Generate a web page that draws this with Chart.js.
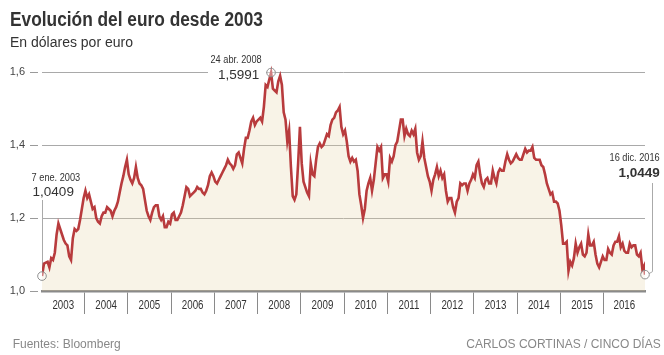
<!DOCTYPE html>
<html><head><meta charset="utf-8">
<script src="https://cdn.jsdelivr.net/npm/chart.js@4.4.1/dist/chart.umd.min.js"></script>
<style>
html,body{margin:0;padding:0;background:#fff;}
#wrap{position:relative;width:664px;height:355px;overflow:hidden;background:#fff;}
canvas{position:absolute;left:0;top:0;}
.t{position:absolute;white-space:nowrap;line-height:1;}
#title{left:10px;top:9px;font-weight:bold;font-size:20px;font-family:"Liberation Sans",Arial,sans-serif;color:#333;transform-origin:0 0;}
#sub{left:10px;top:35px;font-size:14px;font-family:"Liberation Sans",Arial,sans-serif;color:#333;}
#src{left:12.7px;top:338px;font-size:12px;font-family:"Liberation Sans",Arial,sans-serif;color:#888;}
#cred{right:3.3px;top:338px;font-size:12px;font-family:"Liberation Sans",Arial,sans-serif;color:#888;}
</style></head>
<body>
<div id="wrap">
<canvas id="c" width="664" height="355"></canvas>
<div class="t" id="title">Evolución del euro desde 2003</div>
<div class="t" id="sub">En dólares por euro</div>
<div class="t" id="src">Fuentes: Bloomberg</div>
<div class="t" id="cred">CARLOS CORTINAS / CINCO DÍAS</div>
</div>
<script>
// Year labels on the x axis
const years = ['2003','2004','2005','2006','2007','2008','2009','2010','2011','2012','2013','2014','2015','2016'];
// y-axis ticks
const yTicks = [1.0, 1.2, 1.4, 1.6];
// EUR/USD, two readings per month (first half, second half)
const y2003 = [1.0409,1.0750, 1.0780,1.0800, 1.0650,1.0900, 1.0850,1.1050, 1.1550,1.1850, 1.1700,1.1550, 1.1400,1.1300, 1.1250,1.0950, 1.0850,1.1450, 1.1700,1.1650, 1.1700,1.1950, 1.2250,1.2550];
const y2004 = [1.2750,1.2550, 1.2650,1.2450, 1.2250,1.2300, 1.2000,1.1900, 1.1850,1.2050, 1.2150,1.2150, 1.2300,1.2250, 1.2200,1.2050, 1.2200,1.2300, 1.2450,1.2700, 1.2950,1.3150, 1.3400,1.3600];
const y2005 = [1.3200,1.3050, 1.2950,1.3100, 1.3400,1.3100, 1.2950,1.2900, 1.2800,1.2500, 1.2200,1.2050, 1.1950,1.2150, 1.2300,1.2350, 1.2350,1.2050, 1.1950,1.2050, 1.1750,1.1750, 1.1900,1.1850];
const y2006 = [1.2100,1.2150, 1.1950,1.1950, 1.2050,1.2150, 1.2350,1.2600, 1.2850,1.2800, 1.2600,1.2650, 1.2700,1.2750, 1.2850,1.2800, 1.2800,1.2700, 1.2650,1.2750, 1.2900,1.3150, 1.3250,1.3150];
const y2007 = [1.3000,1.2950, 1.3050,1.3150, 1.3250,1.3350, 1.3450,1.3600, 1.3500,1.3450, 1.3350,1.3450, 1.3750,1.3800, 1.3650,1.3500, 1.3900,1.4200, 1.4200,1.4400, 1.4650,1.4750, 1.4550,1.4650];
const y2008 = [1.4700,1.4750, 1.4650,1.5050, 1.5650,1.5600, 1.5800,1.5991, 1.5550,1.5500, 1.5450,1.5750, 1.5900,1.5650, 1.4900,1.4700, 1.4100,1.4400, 1.3400,1.2600, 1.2500,1.2650, 1.3500,1.4500];
const y2009 = [1.3500,1.3000, 1.2850,1.2700, 1.2600,1.3500, 1.3200,1.3150, 1.3600,1.3950, 1.4050,1.3950, 1.4000,1.4150, 1.4300,1.4250, 1.4550,1.4700, 1.4750,1.4900, 1.4950,1.5050, 1.4500,1.4300];
const y2010 = [1.4400,1.4100, 1.3700,1.3550, 1.3650,1.3550, 1.3600,1.3300, 1.2650,1.2350, 1.2000,1.2250, 1.2750,1.2950, 1.3100,1.2750, 1.3050,1.3500, 1.3950,1.3850, 1.3950,1.3100, 1.3200,1.3200];
const y2011 = [1.3000,1.3650, 1.3550,1.3700, 1.4000,1.4100, 1.4400,1.4700, 1.4700,1.4250, 1.4450,1.4300, 1.4250,1.4400, 1.4300,1.4450, 1.3800,1.3600, 1.3700,1.4100, 1.3650,1.3400, 1.3150,1.3000];
const y2012 = [1.2750,1.3050, 1.3200,1.3400, 1.3150,1.3300, 1.3100,1.3200, 1.2750,1.2450, 1.2550,1.2550, 1.2300,1.2150, 1.2450,1.2550, 1.2950,1.2900, 1.2950,1.2950, 1.2750,1.2950, 1.3050,1.3200];
const y2013 = [1.3100,1.3450, 1.3550,1.3200, 1.2950,1.2850, 1.3050,1.3100, 1.2950,1.2950, 1.3300,1.3100, 1.2950,1.3250, 1.3350,1.3300, 1.3300,1.3550, 1.3750,1.3600, 1.3500,1.3550, 1.3650,1.3750];
const y2014 = [1.3650,1.3600, 1.3600,1.3750, 1.3900,1.3800, 1.3850,1.3850, 1.3950,1.3650, 1.3600,1.3600, 1.3600,1.3450, 1.3400,1.3200, 1.2950,1.2800, 1.2650,1.2700, 1.2450,1.2450, 1.2400,1.2200];
const y2015 = [1.1800,1.1300, 1.1300,1.1350, 1.0550,1.0800, 1.0700,1.0900, 1.1300,1.1050, 1.1200,1.1300, 1.1000,1.0950, 1.1050,1.1550, 1.1250,1.1250, 1.1350,1.1000, 1.0750,1.0650, 1.0800,1.0950];
const y2016 = [1.0850,1.0850, 1.1150,1.1050, 1.1000,1.1250, 1.1350,1.1350, 1.1500,1.1200, 1.1300,1.1100, 1.1050,1.1050, 1.1300,1.1200, 1.1250,1.1250, 1.1000,1.0950, 1.1050,1.0600, 1.0700];
const yearValues = [y2003,y2004,y2005,y2006,y2007,y2008,y2009,y2010,y2011,y2012,y2013,y2014,y2015,y2016];

// Annotated points
const startNote = {date:'7 ene. 2003', value:1.0409, t:2003 + 6/365};
const peakNote  = {date:'24 abr. 2008', value:1.5991, t:2008 + 114/366};
const endNote   = {date:'16 dic. 2016', value:1.0449, t:2016 + 350/366};

const fmt = v => v.toFixed(4).replace('.', ',');

// Title: condensed look
(function () {
  const el = document.getElementById('title');
  const w = el.getBoundingClientRect().width;
  if (w > 0) el.style.transform = 'scaleX(' + (253 / w) + ')';
})();

// Build series
const series = [];
yearValues.forEach((arr, i) => {
  const yr = +years[i];
  arr.forEach((v, k) => series.push({x: yr + (2*k + 1)/48, y: v}));
});
series[0].x = startNote.t;
series.push({x: endNote.t, y: endNote.value});

const markers = [startNote, peakNote, endNote].map(n => ({x: n.t, y: n.value}));

// x ticks: separators at year starts, labels centred on each year's visible span
const xMin = startNote.t, xMax = endNote.t;
const xTickList = [];
const labelAt = {};
years.forEach((y, i) => {
  const yr = +y;
  if (i > 0) xTickList.push({value: yr});
  const a = Math.max(yr, xMin), b = Math.min(yr + 1, xMax);
  const mid = (a + b) / 2;
  xTickList.push({value: mid});
  labelAt[mid.toFixed(5)] = y;
});
xTickList.sort((p, q) => p.value - q.value);

const regular = '"Liberation Sans",Arial,sans-serif';

function narrowText(ctx, text, x, y, align, size, sx, weight) {
  ctx.save();
  ctx.font = (weight || '') + ' ' + size + 'px ' + regular;
  ctx.textAlign = align;
  ctx.textBaseline = 'alphabetic';
  ctx.translate(x, y);
  ctx.scale(sx, 1);
  ctx.fillText(text, 0, 0);
  ctx.restore();
}

const annot = {
  id: 'annot',
  beforeDatasetsDraw(chart) {
    const {ctx, scales: {x, y}} = chart;
    ctx.save();
    const pp = {x: x.getPixelForValue(peakNote.t), y: y.getPixelForValue(peakNote.value)};
    ctx.fillStyle = '#fff';
    ctx.fillRect(208, pp.y - 7, pp.x - 5 - 208, 14);
    ctx.strokeStyle = '#aaa';
    ctx.lineWidth = 1;
    const sp = {x: x.getPixelForValue(startNote.t), y: y.getPixelForValue(startNote.value)};
    ctx.beginPath();
    ctx.moveTo(Math.round(sp.x) + 0.5, 200);
    ctx.lineTo(Math.round(sp.x) + 0.5, sp.y - 4);
    ctx.stroke();
    const ep = {x: x.getPixelForValue(endNote.t), y: y.getPixelForValue(endNote.value)};
    ctx.beginPath();
    ctx.moveTo(Math.round(ep.x + 7) + 0.5, 183);
    ctx.lineTo(Math.round(ep.x + 7) + 0.5, ep.y - 3);
    ctx.lineTo(ep.x + 4, ep.y - 1);
    ctx.stroke();
    ctx.restore();
  },
  afterDatasetsDraw(chart) {
    const {ctx, scales: {x, y}} = chart;
    const sp = {x: x.getPixelForValue(startNote.t), y: y.getPixelForValue(startNote.value)};
    const pp = {x: x.getPixelForValue(peakNote.t), y: y.getPixelForValue(peakNote.value)};
    const ep = {x: x.getPixelForValue(endNote.t), y: y.getPixelForValue(endNote.value)};
    ctx.save();
    ctx.fillStyle = '#333';
    narrowText(ctx, startNote.date, sp.x - 10.4, 181, 'left', 11.5, 0.8);
    narrowText(ctx, fmt(startNote.value), sp.x - 9.4, 195.7, 'left', 13.5, 1);
    narrowText(ctx, peakNote.date, pp.x - 35, pp.y - 9.4, 'center', 11.5, 0.8);
    narrowText(ctx, fmt(peakNote.value), pp.x - 11.7, pp.y + 6.6, 'right', 13.5, 1);
    narrowText(ctx, endNote.date, ep.x + 14.7, 160.7, 'right', 11.5, 0.8);
    narrowText(ctx, fmt(endNote.value), ep.x + 14.7, 177.3, 'right', 13.5, 1, 'bold');
    // year labels, at the x scale's label ticks
    ctx.fillStyle = '#333';
    x.ticks.forEach(t => {
      const lab = labelAt[Number(t.value).toFixed(5)];
      if (lab) narrowText(ctx, lab, x.getPixelForValue(t.value), 309, 'center', 12.5, 0.78);
    });
    ctx.restore();
  }
};

new Chart(document.getElementById('c'), {
  type: 'line',
  data: {
    datasets: [
      {
        data: markers,
        showLine: false,
        pointRadius: 4.3,
        pointBorderWidth: 1,
        pointBorderColor: '#8f8f8f',
        pointBackgroundColor: 'rgba(255,255,255,0.35)',
        clip: false,
        order: 0
      },
      {
        data: series,
        borderColor: '#b83b3d',
        borderWidth: 2.6,
        pointRadius: 0,
        tension: 0,
        fill: 'start',
        backgroundColor: 'rgba(226,208,160,0.25)',
        order: 1
      }
    ]
  },
  options: {
    responsive: false,
    animation: false,
    events: [],
    layout: {padding: {top: 54, right: 19, left: 0, bottom: 0}},
    plugins: {legend: {display: false}, tooltip: {enabled: false}},
    scales: {
      x: {
        type: 'linear',
        min: xMin,
        max: xMax,
        z: 1,
        border: {display: true, color: '#8a8a8a', width: 2.5},
        grid: {
          drawOnChartArea: false,
          drawTicks: true,
          tickLength: 23,
          tickWidth: 1,
          tickColor: ctx => (ctx.tick && Number.isInteger(ctx.tick.value)) ? '#8a8a8a' : 'rgba(0,0,0,0)'
        },
        afterBuildTicks: s => { s.ticks = xTickList.map(t => ({value: t.value})); },
        afterFit: s => { s.height = 64; },
        ticks: {
          display: false,
          autoSkip: false,
          maxRotation: 0,
          callback: v => labelAt[Number(v).toFixed(5)] || ''
        }
      },
      y: {
        min: 1.0,
        max: 1.65,
        border: {display: false},
        grid: {
          color: ctx => (ctx.tick && Math.abs(ctx.tick.value - 1) < 1e-9) ? 'rgba(0,0,0,0)' : '#a9a9a9',
          lineWidth: 1,
          tickLength: 12,
          tickColor: '#9a9a9a',
          tickBorderDash: [8, 4]
        },
        afterBuildTicks: s => { s.ticks = yTicks.map(v => ({value: v})); },
        afterFit: s => { s.width = 42; },
        ticks: {
          padding: 5,
          color: '#444',
          font: {family: regular, size: 11},
          callback: v => Number(v).toFixed(1).replace('.', ',')
        }
      }
    }
  },
  plugins: [annot]
});
</script>
</body></html>
